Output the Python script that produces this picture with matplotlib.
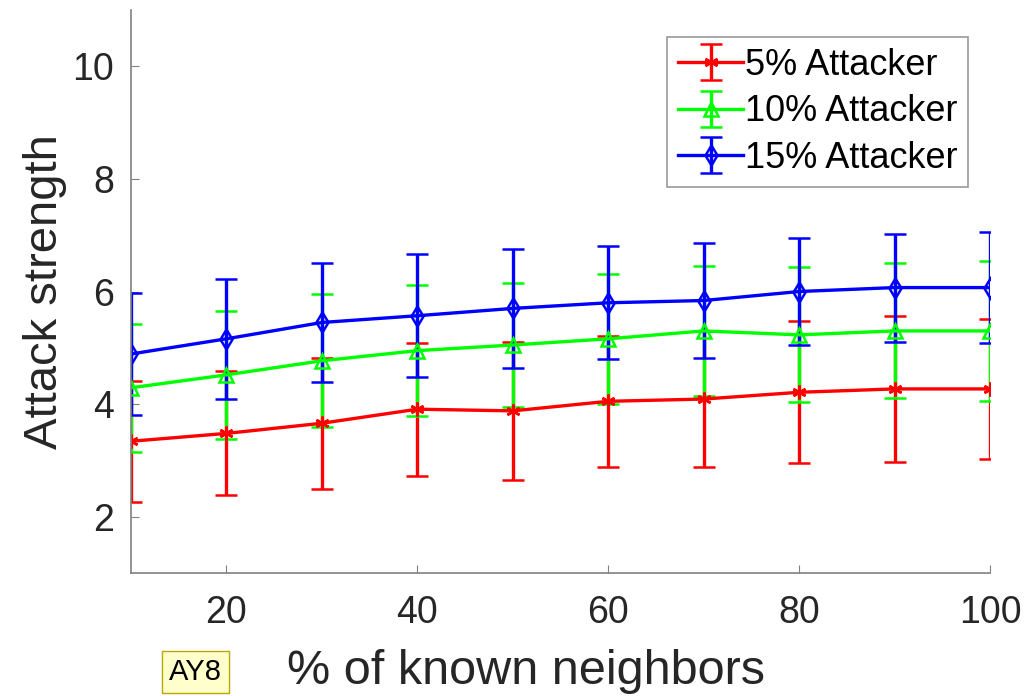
import matplotlib

matplotlib.use("Agg")
import matplotlib.pyplot as plt
import numpy as np

plt.rcParams["font.family"] = ["Liberation Sans", "DejaVu Sans"]

known = [10, 20, 30, 40, 50, 60, 70, 80, 90, 100]

att5 = [3.34, 3.48, 3.66, 3.91, 3.88, 4.05, 4.09, 4.21, 4.27, 4.27]
att5_err = [1.07, 1.10, 1.16, 1.18, 1.22, 1.16, 1.20, 1.26, 1.30, 1.24]

att10 = [4.29, 4.52, 4.77, 4.95, 5.05, 5.16, 5.30, 5.23, 5.30, 5.30]
att10_err = [1.14, 1.14, 1.18, 1.16, 1.11, 1.16, 1.15, 1.20, 1.20, 1.24]

att15 = [4.89, 5.16, 5.45, 5.57, 5.70, 5.80, 5.84, 6.00, 6.07, 6.07]
att15_err = [1.09, 1.07, 1.06, 1.09, 1.05, 1.00, 1.02, 0.95, 0.96, 0.98]

series = [
    ("5% Attacker", att5, att5_err, "#ff0000", (6, 2, 0)),
    ("10% Attacker", att10, att10_err, "#00ff00", "^"),
    ("15% Attacker", att15, att15_err, "#0000ff", "d"),
]

txt = "#262626"
fig = plt.figure(figsize=(10.28, 6.96), dpi=100)
ax = fig.add_axes([0.1274, 0.1767, 0.8356, 0.8089])

for label, vals, err, col, mk in series:
    ax.errorbar(known, vals, yerr=err, color=col, marker=mk, markersize=10,
                markerfacecolor="none", markeredgewidth=1.8, linewidth=2.4,
                elinewidth=2.4, capsize=8, capthick=2.4, label=label)

ax.set_xlim(10, 100)
ax.set_ylim(1, 11)
ax.set_xticks([20, 40, 60, 80, 100])
ax.set_yticks([2, 4, 6, 8, 10])
for side in ("top", "right"):
    ax.spines[side].set_visible(False)
for side in ("left", "bottom"):
    ax.spines[side].set_color("#808080")
    ax.spines[side].set_linewidth(1.2)
ax.tick_params(direction="in", length=6, color="#808080", labelsize=27,
               labelcolor=txt)
ax.tick_params(axis="x", pad=16)
ax.tick_params(axis="y", pad=12)

ax.set_xlabel("% of known neighbors", fontsize=35, color=txt, labelpad=14)
ax.xaxis.set_label_coords(0.46, -0.135)
ax.set_ylabel("Attack strength", fontsize=34, color=txt, labelpad=4)

leg = ax.legend(loc="upper right", bbox_to_anchor=(0.975, 0.952), borderaxespad=0,
                fontsize=26, frameon=True, fancybox=False, handlelength=1.8,
                handletextpad=0.05, labelspacing=0.32, borderpad=0.3)
leg.get_frame().set_edgecolor("#808080")
leg.get_frame().set_linewidth(1.2)

fig.text(0.19, 0.0345, "AY8", fontsize=21, color="black", ha="center", va="center",
         bbox=dict(boxstyle="square,pad=0.25", facecolor="#ffffcc", edgecolor="#b8a800"))

fig.savefig("out.png", dpi=100)
plt.close(fig)
